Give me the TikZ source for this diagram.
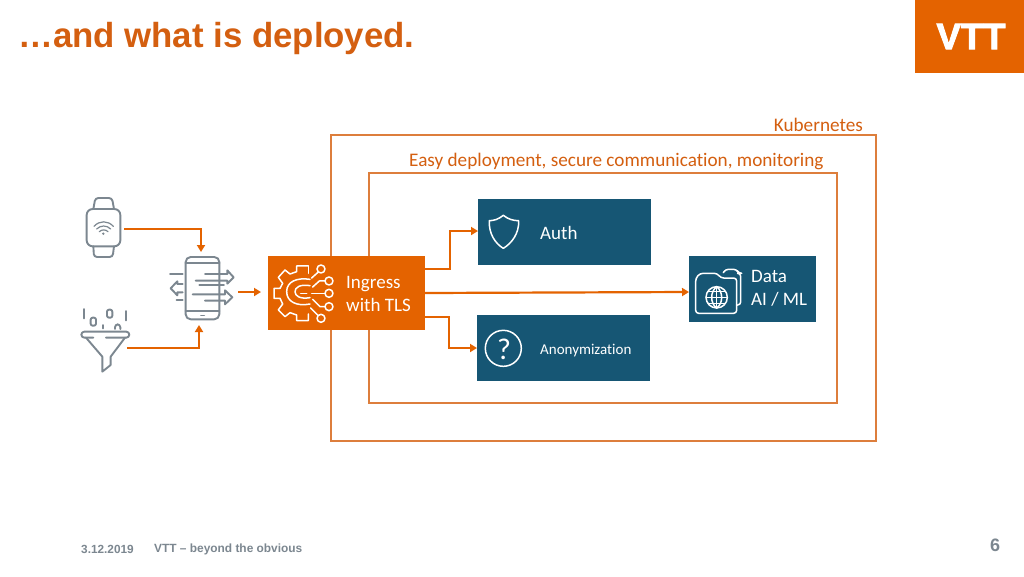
\documentclass[tikz,border=0pt]{standalone}
\usepackage{fontspec}
\setmainfont{Liberation Sans}
\newfontfamily\calfont[Ligatures=CommonOff]{Carlito}
\newfontfamily\logofont[BoldFeatures={FakeBold=2.5}]{Liberation Sans}
\usetikzlibrary{arrows.meta}
\definecolor{vttorange}{HTML}{E46300}
\definecolor{vttblue}{HTML}{165674}
\definecolor{framec}{HTML}{DD7E3C}
\definecolor{labelc}{HTML}{D45F10}
\definecolor{icong}{HTML}{7C8790}
\tikzset{
  x=1pt,y=-1pt,
  bluebox/.style={draw=none,fill=vttblue,anchor=north west,inner sep=0pt},
  frame/.style={draw=framec,line width=1.8pt,fill=none,anchor=north west,inner sep=0pt,outer sep=0pt},
  flow/.style={draw=vttorange,line width=2.2pt,-{Triangle[length=7pt,width=8pt]}},
  lab/.style={font=\calfont\fontsize{19.2}{22}\selectfont,text=labelc,inner sep=0pt},
  wlab/.style={font=\calfont\fontsize{19}{23}\selectfont,text=white,inner sep=0pt,align=left},
  ico/.style={draw=icong,line width=1.9pt,line join=round,line cap=round,fill=none},
  wico/.style={draw=white,line width=1.5pt,line join=round,line cap=round,fill=none},
  zone/.style={minimum width=0pt,minimum height=0pt,inner sep=0pt,draw=none}
}
\begin{document}
\begin{tikzpicture}
\useasboundingbox (0,0) rectangle (1024,576);
\fill[white] (0,0) rectangle (1024,576);
% title and logo
\node[anchor=west,inner sep=0pt,text=labelc,font=\bfseries\fontsize{34.8}{38}\selectfont] (title) at (18,38.5) {…and what is deployed.};
\node[anchor=north west,fill=vttorange,minimum width=109pt,minimum height=73pt,inner sep=0pt] (logo) at (915,0) {};
\node[text=white,inner sep=0pt,font=\logofont\bfseries\fontsize{36.5}{36}\selectfont] (vtt) at (971,36.5) {VTT};
% frames
\node[frame,minimum width=545pt,minimum height=306pt] (k8s) at (330.8,134.8) {};
\node[frame,minimum width=468pt,minimum height=230pt] (inner) at (368.8,172.8) {};
\node[lab,anchor=east] (k8slab) at (863,125) {Kubernetes};
\node[lab,anchor=west] (innerlab) at (409,161) {Easy deployment, secure communication, monitoring};
% boxes
\node[bluebox,minimum width=173pt,minimum height=66pt] (auth) at (478,199) {};
\node[bluebox,minimum width=173pt,minimum height=66pt] (anon) at (477,315) {};
\node[bluebox,minimum width=127pt,minimum height=66pt] (data) at (689,256) {};
\node[anchor=north west,fill=vttorange,minimum width=157pt,minimum height=74pt,inner sep=0pt] (ingress) at (268,256) {};
\node[wlab,anchor=west] (authlab) at (540,233) {Auth};
\node[wlab,anchor=west,font=\calfont\fontsize{15}{18}\selectfont] (anonlab) at (540,350.5) {Anonymization};
\node[wlab,anchor=west] (datalab) at (751,288.5) {Data\\AI / ML};
\node[wlab,anchor=west] (inglab) at (346,294) {Ingress\\with TLS};
% icon anchors
\node[zone,minimum width=36pt,minimum height=60pt] (watch) at (104,228) {};
\node[zone,minimum width=50pt,minimum height=62pt] (funnel) at (105,336) {};
\node[zone,minimum width=34pt,minimum height=62pt] (phone) at (202,288) {};
% watch
\begin{scope}[shift={(70,185)},x=0.3333pt,y=-0.3333pt]
\draw[ico,rounded corners=6pt] (50,72) rectangle (151,184);
\draw[ico,rounded corners=3pt] (70,72) -- (76,39) -- (126,39) -- (132,72);
\draw[ico,rounded corners=3pt] (70,184) -- (72,216) -- (128,216) -- (132,184);
\draw[ico,line width=1.2pt] (72,124) .. controls (88,106) and (114,106) .. (130,124);
\draw[ico,line width=1.2pt] (80,132) .. controls (92,120) and (110,120) .. (122,132);
\draw[ico,line width=1.2pt] (88,140) .. controls (95,133) and (107,133) .. (114,140);
\fill[icong] (100,146) circle (4);
% phone
\draw[ico,rounded corners=5pt] (347,216) rectangle (448,403);
\draw[ico] (347,235) -- (448,235);
\draw[ico] (347,378) -- (448,378);
\draw[ico,line width=1.5pt] (393,391) -- (403,391);
\draw[ico] (405,267) -- (472,267) -- (472,256) -- (491,277) -- (472,296) -- (472,287) -- (377,287);
\draw[ico] (388,300) -- (462,300);
\draw[ico] (368,328) -- (465,328) -- (465,316) -- (487,337) -- (465,358) -- (465,347) -- (405,347);
\draw[ico] (338,297) -- (322,297) -- (322,289) -- (302,310) -- (322,331) -- (322,322) -- (338,322);
\draw[ico] (300,268) -- (338,268);
\draw[ico] (320,345) -- (338,345);
% funnel
\draw[ico,rounded corners=3pt] (70,458) -- (34,458) -- (34,440) -- (178,440) -- (178,458) -- (108,458);
\draw[ico] (48,458) -- (97,515) -- (97,560) -- (122,540) -- (122,515) -- (165,458);
\draw[ico] (42,372) -- (42,400);
\draw[ico] (167,378) -- (167,406);
\draw[ico,rounded corners=2pt] (62,398) rectangle (78,422);
\draw[ico,rounded corners=2pt] (111,374) rectangle (127,398);
\draw[ico] (98,420) -- (98,430);
\draw[ico,rounded corners=3pt] (135,432) -- (135,418) -- (151,418) -- (151,432);
\end{scope}
% gear icon
\begin{scope}[shift={(260,190)},x=0.3333pt,y=-0.3333pt]
\draw[wico] (145,228) -- (110,228) -- (110,245) -- (90,252) -- (75,240) -- (55,262) -- (68,280) -- (60,295) -- (42,295) -- (42,325) -- (60,325) -- (68,342) -- (55,360) -- (75,380) -- (90,368) -- (110,375) -- (110,392) -- (145,392) -- (145,372);
\draw[wico] (145,228) -- (145,250);
\draw[wico] (150,268) .. controls (110,262) and (80,275) .. (80,305) .. controls (80,335) and (110,350) .. (150,342);
\draw[wico] (150,287) .. controls (120,282) and (105,292) .. (105,305) .. controls (105,318) and (120,328) .. (150,323);
\draw[wico] (183,237) circle (12);
\draw[wico] (175,246) -- (155,264);
\draw[wico] (207,273) circle (12);
\draw[wico] (195,273) -- (178,273) -- (158,291);
\draw[wico] (207,310) circle (12);
\draw[wico] (195,310) -- (155,310);
\draw[wico,dash pattern=on 6pt off 6pt] (122,310) -- (148,310);
\draw[wico] (207,350) circle (12);
\draw[wico] (195,350) -- (180,350) -- (158,328);
\draw[wico] (183,385) circle (12);
\draw[wico] (174,376) -- (152,354);
% shield
\draw[wico] (730,76) .. controls (715,88) and (702,92) .. (688,92) .. controls (686,130) and (705,160) .. (730,175) .. controls (755,160) and (778,130) .. (776,92) .. controls (760,92) and (745,88) .. (730,76) -- cycle;
% question
\draw[wico] (730,475) circle (54);
\node[text=white,inner sep=0pt,font=\calfont\fontsize{30}{30}\selectfont] (qmark) at (732,477) {?};
\end{scope}
% folder icon
\begin{scope}[shift={(680,250)},x=0.3333pt,y=-0.3333pt]
\draw[wico,rounded corners=3pt] (47,190) -- (47,85) -- (60,70) -- (112,70) -- (122,84) -- (170,84) -- (170,190) -- cycle;
\draw[wico,rounded corners=3pt] (130,68) -- (136,58) -- (170,58) -- (176,70) -- (182,70) -- (182,165) -- (170,165);
\draw[wico] (110,142) circle (32);
\draw[wico] (110,110) .. controls (90,125) and (90,160) .. (110,174);
\draw[wico] (110,110) .. controls (130,125) and (130,160) .. (110,174);
\draw[wico] (110,110) -- (110,174);
\draw[wico] (78,142) -- (142,142);
\draw[wico] (84,124) -- (136,124);
\draw[wico] (84,160) -- (136,160);
\end{scope}
% connectors
\coordinate (w1) at (124,229);
\coordinate (w2) at (201,252);
\draw[flow] (w1) -| (w2);
\coordinate (f1) at (127,348);
\coordinate (f2) at (199,325);
\draw[flow] (f1) -| (f2);
\coordinate (p1) at (238,292);
\coordinate (i1) at (261,292);
\draw[flow] (p1) -- (i1);
\coordinate (a1) at (425,269);
\coordinate (a1t) at (478,231);
\draw[flow] (a1) -- (450,269) |- (a1t);
\coordinate (a2) at (425,317);
\coordinate (a2t) at (477,348);
\draw[flow] (a2) -- (449,317) |- (a2t);
\coordinate (a3) at (425,293);
\coordinate (a3t) at (689,292);
\draw[flow] (a3) -- (a3t);
% footer
\node[anchor=west,inner sep=0pt,text=icong,font=\bfseries\fontsize{11.8}{12}\selectfont] (date) at (81,549.5) {3.12.2019};
\node[anchor=west,inner sep=0pt,text=icong,font=\bfseries\fontsize{11.9}{12}\selectfont] (tag) at (154,549.5) {VTT – beyond the obvious};
\node[inner sep=0pt,text=icong,font=\bfseries\fontsize{18}{20}\selectfont] (pg) at (995,545) {6};
\end{tikzpicture}
\end{document}
